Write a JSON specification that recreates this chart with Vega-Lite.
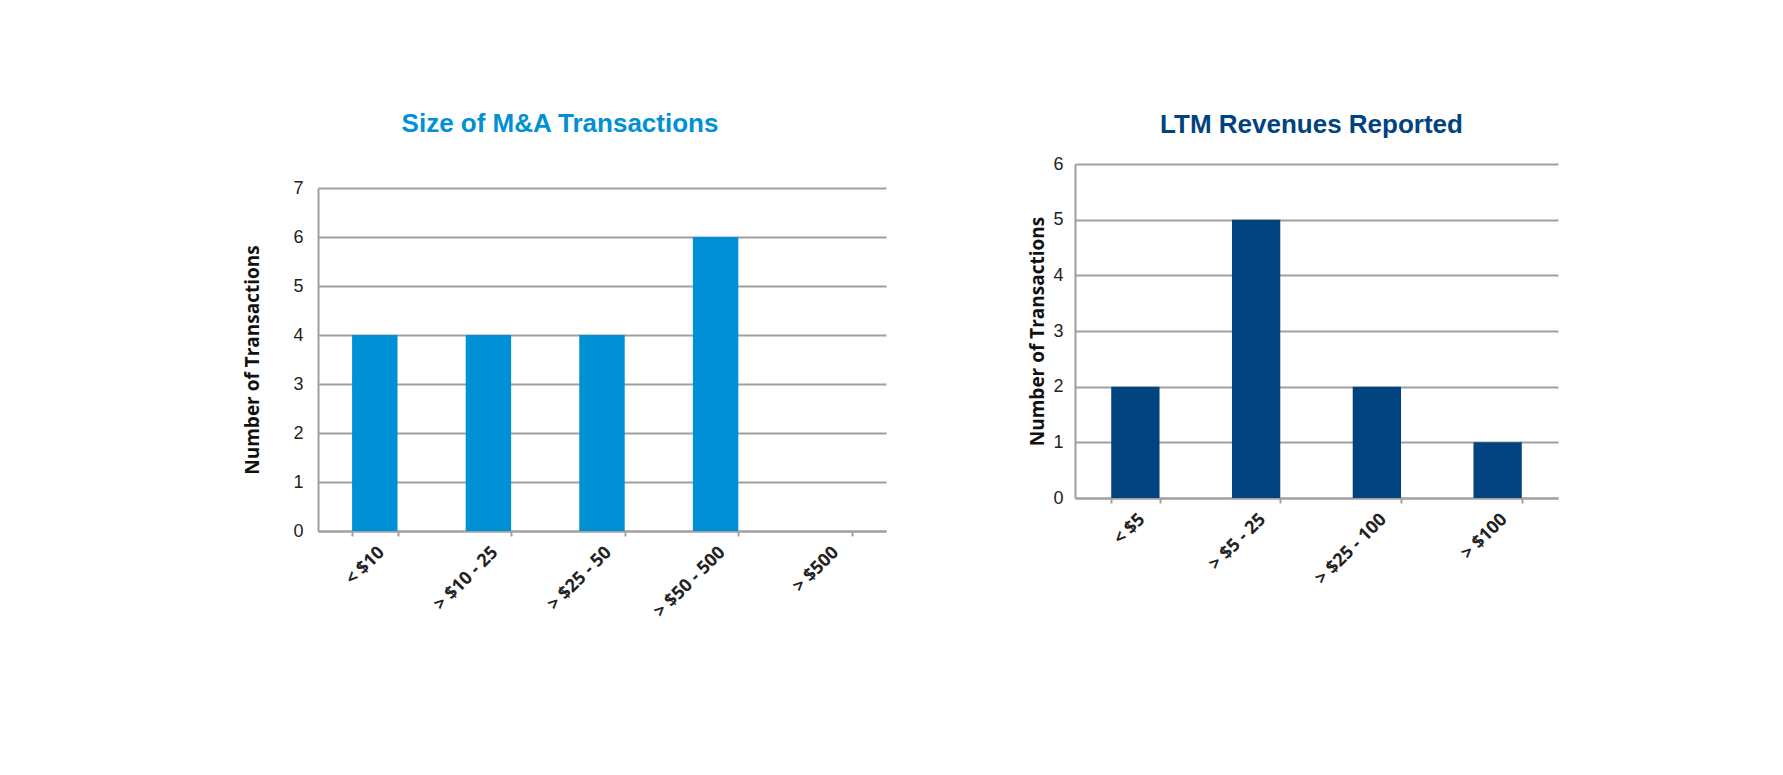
{
  "$schema": "https://vega.github.io/schema/vega-lite/v6.json",
  "background": "white",
  "padding": {"left": 243, "top": 100, "right": 10, "bottom": 10},
  "spacing": 142,
  "config": {
    "view": {"stroke": null},
    "axis": {
      "domainColor": "#A0A0A0",
      "domainWidth": 2,
      "gridColor": "#A0A0A0",
      "gridWidth": 2,
      "tickColor": "#A0A0A0",
      "tickWidth": 2,
      "labelColor": "#222222",
      "titleColor": "#111111"
    },
    "title": {"font": "Liberation Sans", "fontWeight": "bold", "fontSize": 26, "anchor": "middle"}
  },
  "hconcat": [
    {
      "spacing": 10,
      "vconcat": [
        {"width": 568, "height": 1, "data": {"values": []}, "mark": "point", "encoding": {}},
        {
          "title": {"text": "Size of M&A Transactions", "color": "#0090D5", "offset": 42, "dx": -42},
          "width": 568,
          "height": 343,
          "data": {"values": [
            {"range": "< $10", "count": 4},
            {"range": "> $10 - 25", "count": 4},
            {"range": "> $25 - 50", "count": 4},
            {"range": "> $50 - 500", "count": 6},
            {"range": "> $500", "count": 0}
          ]},
          "mark": {"type": "bar", "color": "#0090D5"},
          "encoding": {
            "x": {
              "field": "range", "type": "nominal", "sort": null,
              "scale": {"paddingInner": 0.6, "paddingOuter": 0.3},
              "axis": {"title": null, "labelAngle": -45, "labelFont": "Open Sans", "labelFontWeight": "bold", "labelFontSize": 18, "tickBand": "extent", "tickSize": 5, "labelPadding": 7, "grid": false}
            },
            "y": {
              "field": "count", "type": "quantitative",
              "scale": {"domain": [0, 7], "nice": false},
              "axis": {"title": "Number of Transactions", "titleFont": "Open Sans", "titleFontWeight": "bold", "titleFontSize": 19, "titlePadding": 30, "labelFont": "Liberation Sans", "labelFontSize": 18, "labelPadding": 15, "ticks": false, "values": [0,1,2,3,4,5,6,7], "grid": true}
            }
          }
        }
      ]
    },
    {
      "spacing": 11,
      "vconcat": [
        {"width": 483, "height": 1, "data": {"values": []}, "mark": "point", "encoding": {}},
        {
          "title": {"text": "LTM Revenues Reported", "color": "#00437F", "offset": 17, "dx": -5},
          "width": 483,
          "height": 334,
          "data": {"values": [
            {"range": "< $5", "count": 2},
            {"range": "> $5 - 25", "count": 5},
            {"range": "> $25 - 100", "count": 2},
            {"range": "> $100", "count": 1}
          ]},
          "mark": {"type": "bar", "color": "#00437F"},
          "encoding": {
            "x": {
              "field": "range", "type": "nominal", "sort": null,
              "scale": {"paddingInner": 0.6, "paddingOuter": 0.3},
              "axis": {"title": null, "labelAngle": -45, "labelFont": "Open Sans", "labelFontWeight": "bold", "labelFontSize": 18, "tickBand": "extent", "tickSize": 5, "labelPadding": 7, "grid": false}
            },
            "y": {
              "field": "count", "type": "quantitative",
              "scale": {"domain": [0, 6], "nice": false},
              "axis": {"title": "Number of Transactions", "titleFont": "Open Sans", "titleFontWeight": "bold", "titleFontSize": 19, "titlePadding": 5, "labelFont": "Liberation Sans", "labelFontSize": 18, "labelPadding": 12, "ticks": false, "values": [0,1,2,3,4,5,6], "grid": true}
            }
          }
        }
      ]
    }
  ]
}
